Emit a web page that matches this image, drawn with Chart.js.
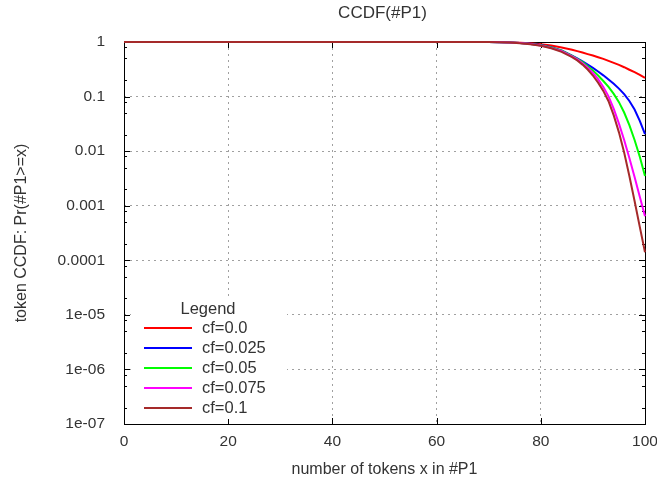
<!DOCTYPE html>
<html>
<head>
<meta charset="utf-8">
<script src="https://cdn.jsdelivr.net/npm/chart.js@4.4.0/dist/chart.umd.min.js"></script>
<style>
  html, body { margin: 0; padding: 0; background: #fff; }
  #wrap { width: 657px; height: 485px; position: relative; }
</style>
</head>
<body>
<div id="wrap"><canvas id="ccdfChart"></canvas></div>
<script>
const tokens = [0, 10, 20, 30, 40, 50, 60, 65, 70, 72, 74, 76, 78, 80, 82, 84, 86, 87, 88, 89, 90, 91, 92, 93, 94, 95, 96, 97, 98, 99, 100];

const cf00  = [1, 1, 1, 1, 1, 1, 1, 1, 0.998, 0.995, 0.987, 0.973, 0.95, 0.91, 0.86, 0.79, 0.72, 0.68, 0.64, 0.6, 0.565, 0.525, 0.49, 0.45, 0.415, 0.38, 0.345, 0.31, 0.28, 0.25, 0.22];
const cf025 = [1, 1, 1, 1, 1, 1, 1, 1, 0.998, 0.993, 0.982, 0.96, 0.925, 0.88, 0.8, 0.7, 0.56, 0.5, 0.442, 0.386, 0.335, 0.288, 0.245, 0.206, 0.171, 0.14, 0.111, 0.083, 0.058, 0.036, 0.0205];
const cf05  = [1, 1, 1, 1, 1, 1, 1, 1, 0.998, 0.993, 0.982, 0.96, 0.92, 0.87, 0.79, 0.69, 0.555, 0.49, 0.427, 0.359, 0.299, 0.243, 0.193, 0.15, 0.112, 0.079, 0.051, 0.03, 0.016, 0.0079, 0.0035];
const cf075 = [1, 1, 1, 1, 1, 1, 1, 1, 0.998, 0.992, 0.98, 0.957, 0.915, 0.86, 0.78, 0.68, 0.545, 0.48, 0.407, 0.339, 0.272, 0.209, 0.15, 0.101, 0.0596, 0.032, 0.016, 0.0075, 0.00335, 0.00146, 0.00064];
const cf10  = [1, 1, 1, 1, 1, 1, 1, 1, 0.997, 0.99, 0.975, 0.95, 0.91, 0.85, 0.77, 0.66, 0.53, 0.46, 0.385, 0.313, 0.243, 0.18, 0.127, 0.0822, 0.0452, 0.0221, 0.00944, 0.0035, 0.00122, 0.00041, 0.00014];

const seriesLabels = ['cf=0.0', 'cf=0.025', 'cf=0.05', 'cf=0.075', 'cf=0.1'];
const seriesValues = [cf00, cf025, cf05, cf075, cf10];
const seriesColors = ['#ff0000', '#0000ff', '#00ff00', '#ff00ff', '#a52a2a'];

const yTickValues = [1, 0.1, 0.01, 0.001, 0.0001, 1e-5, 1e-6, 1e-7];
const yTickLabels = ['1', '0.1', '0.01', '0.001', '0.0001', '1e-05', '1e-06', '1e-07'];
const xTickValues = [0, 20, 40, 60, 80, 100];

const FONT = 'Liberation Sans';
const TEXT = '#333333';

// gnuplot style frame, inward ticks, title and legend box
const framePlugin = {
  id: 'frame',
  beforeDatasetsDraw(chart) {
    const { ctx, chartArea: a, scales: { x, y } } = chart;
    ctx.save();
    ctx.strokeStyle = '#000';
    ctx.lineWidth = 1;
    ctx.beginPath();
    xTickValues.forEach(v => {
      const px = Math.round(x.getPixelForValue(v)) + 0.5;
      ctx.moveTo(px, a.bottom); ctx.lineTo(px, a.bottom - 6);
      ctx.moveTo(px, a.top); ctx.lineTo(px, a.top + 6);
    });
    yTickValues.forEach(v => {
      const py = Math.round(y.getPixelForValue(v)) + 0.5;
      ctx.moveTo(a.left, py); ctx.lineTo(a.left + 6, py);
      ctx.moveTo(a.right, py); ctx.lineTo(a.right - 6, py);
      if (v < 1) {
        [2, 5, 8].forEach(m => {
          const pm = Math.round(y.getPixelForValue(v * m)) + 0.5;
          ctx.moveTo(a.left, pm); ctx.lineTo(a.left + 3, pm);
          ctx.moveTo(a.right, pm); ctx.lineTo(a.right - 3, pm);
        });
      }
    });
    ctx.stroke();
    ctx.strokeRect(Math.round(a.left) + 0.5, Math.round(a.top) + 0.5,
      Math.round(a.right - a.left), Math.round(a.bottom - a.top));

    ctx.font = '17px "' + FONT + '"';
    ctx.fillStyle = TEXT;
    ctx.textAlign = 'center';
    ctx.textBaseline = 'middle';
    ctx.fillText('CCDF(#P1)', (a.left + a.right) / 2 - 2, 13);
    ctx.restore();
  },
  afterDatasetsDraw(chart) {
    const { ctx } = chart;
    ctx.save();
    ctx.fillStyle = '#fff';
    ctx.fillRect(131, 297, 156, 122);
    ctx.font = '16.5px "' + FONT + '"';
    ctx.fillStyle = TEXT;
    ctx.textAlign = 'center';
    ctx.textBaseline = 'middle';
    ctx.fillText('Legend', 208, 309);
    ctx.textAlign = 'left';
    seriesLabels.forEach((label, i) => {
      const yy = 328 + i * 20;
      ctx.strokeStyle = seriesColors[i];
      ctx.lineWidth = 2;
      ctx.beginPath();
      ctx.moveTo(144, yy); ctx.lineTo(192, yy);
      ctx.stroke();
      ctx.fillText(label, 202, yy);
    });
    ctx.restore();
  }
};

function buildDatasets() {
  return seriesLabels.map((label, i) => ({
    label: label,
    data: tokens.map((t, j) => ({ x: t, y: seriesValues[i][j] })),
    borderColor: seriesColors[i],
    backgroundColor: seriesColors[i],
    borderWidth: 2,
    pointRadius: 0,
    tension: 0,
    fill: false,
    clip: 3,
    order: seriesLabels.length - i
  }));
}

const cfg = {
  type: 'line',
  data: { datasets: buildDatasets() },
  options: {
    responsive: true,
    maintainAspectRatio: false,
    animation: false,
    layout: { padding: { left: 0, right: 12, top: 42, bottom: 0 } },
    plugins: {
      legend: { display: false },
      tooltip: { enabled: false },
      title: { display: false }
    },
    scales: {
      x: {
        type: 'linear',
        min: 0, max: 100,
        afterBuildTicks: s => { s.ticks = xTickValues.map(v => ({ value: v })); },
        afterFit: s => { s.height = 61; s.paddingRight = 0; s.paddingLeft = 0; },
        ticks: { color: TEXT, font: { family: FONT, size: 15.5 }, padding: 8, maxRotation: 0 },
        grid: { color: '#a0a0a0', drawTicks: false, lineWidth: 1 },
        border: { display: false, dash: [2, 4] },
        title: {
          display: true, text: 'number of tokens x in #P1', color: TEXT,
          font: { family: FONT, size: 16 }, padding: { top: 0, bottom: 6 }
        }
      },
      y: {
        type: 'logarithmic',
        min: 1e-7, max: 1,
        afterBuildTicks: s => { s.ticks = yTickValues.map(v => ({ value: v })); },
        afterFit: s => { s.width = 124; s.paddingTop = 0; s.paddingBottom = 0; },
        ticks: {
          color: TEXT, font: { family: FONT, size: 15.5 }, padding: 19,
          callback: v => yTickLabels[yTickValues.indexOf(v)] ?? ''
        },
        grid: { color: '#a0a0a0', drawTicks: false, lineWidth: 1 },
        border: { display: false, dash: [2, 4] },
        title: {
          display: true, text: 'token CCDF: Pr(#P1>=x)', color: TEXT,
          font: { family: FONT, size: 16 }, padding: { top: 12, bottom: 0 }
        }
      }
    }
  },
  plugins: [framePlugin]
};

new Chart(document.getElementById('ccdfChart').getContext('2d'), cfg);
</script>
</body>
</html>
